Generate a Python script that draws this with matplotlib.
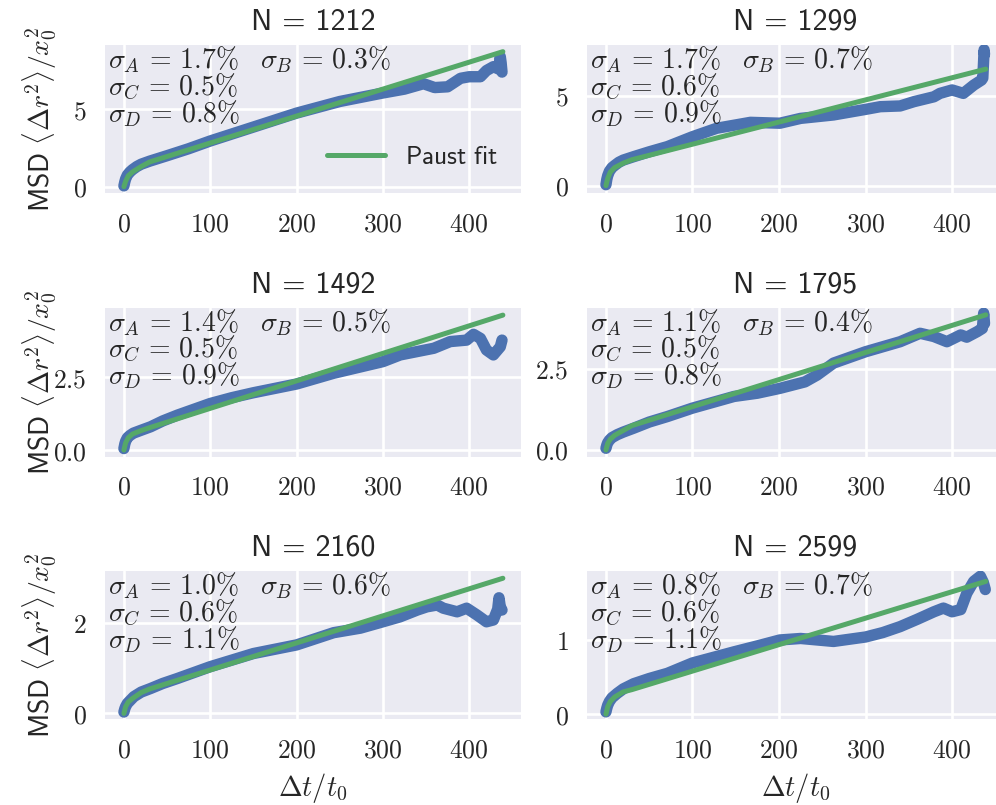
import matplotlib
matplotlib.use("Agg")
import matplotlib.pyplot as plt
import seaborn as sns

sns.set_theme(style="darkgrid")
plt.rcParams["mathtext.fontset"] = "cm"
plt.rcParams["font.family"] = ["DejaVu Sans"]

BLUE = "#4C72B0"
GREEN = "#55A868"
INK = "#262626"

# ---------------------------------------------------------------- data
system_sizes = [1212, 1299, 1492, 1795, 2160, 2599]
sigma_A = ["1.7", "1.7", "1.4", "1.1", "1.0", "0.8"]
sigma_B = ["0.3", "0.7", "0.5", "0.4", "0.6", "0.7"]
sigma_C = ["0.5", "0.6", "0.5", "0.5", "0.6", "0.6"]
sigma_D = ["0.8", "0.9", "0.9", "0.8", "1.1", "1.1"]

# measured MSD curves (lag time in units of t0, MSD in units of x0^2)
t_1212 = [0, 1, 2, 4, 7, 10, 15, 20, 30, 50, 75, 100, 150, 200, 250, 300,
          325, 347, 360, 375, 390, 400, 413, 420, 428, 434, 436, 437, 438]
msd_1212 = [0.05, 0.3, 0.5, 0.75, 0.95, 1.1, 1.3, 1.45, 1.65, 2.0, 2.45, 2.95,
            3.85, 4.75, 5.5, 6.05, 6.3, 6.65, 6.4, 6.45, 7.0, 7.1, 7.1, 7.5,
            7.75, 7.6, 8.4, 8.0, 7.4]

t_1299 = [0, 1, 2, 4, 7, 10, 15, 20, 32, 50, 71, 100, 128, 167, 201, 225,
          263, 300, 317, 340, 356, 379, 386, 400, 413, 425, 434, 435.5,
          436.5, 437, 437.5]
msd_1299 = [0.05, 0.35, 0.55, 0.8, 1.0, 1.12, 1.3, 1.42, 1.61, 1.88, 2.17,
            2.72, 3.19, 3.52, 3.47, 3.74, 3.93, 4.24, 4.39, 4.43, 4.67, 4.94,
            5.13, 5.32, 5.13, 5.59, 5.87, 5.98, 7.0, 7.55, 7.3]

t_1492 = [0, 1, 2, 4, 7, 11, 20, 31, 45, 62, 100, 125, 150, 200, 243, 300,
          320, 359, 378, 397, 405, 413, 420, 428, 436, 438]
msd_1492 = [0.05, 0.2, 0.3, 0.42, 0.5, 0.58, 0.68, 0.8, 1.0, 1.2, 1.6, 1.8,
            1.97, 2.27, 2.64, 3.04, 3.27, 3.5, 3.73, 3.78, 3.98, 3.84, 3.44,
            3.27, 3.55, 3.78]

t_1795 = [0, 1, 2, 4, 7, 13, 20, 32, 50, 71, 100, 148, 175, 201, 230, 244,
          263, 300, 340, 363, 379, 394, 410, 417, 429, 435, 436.5, 437.5]
msd_1795 = [0.05, 0.15, 0.22, 0.3, 0.38, 0.47, 0.55, 0.67, 0.86, 1.03, 1.29,
            1.65, 1.75, 1.9, 2.1, 2.31, 2.68, 3.03, 3.34, 3.6, 3.5, 3.34,
            3.55, 3.48, 3.65, 3.75, 4.22, 3.9]

t_2160 = [0, 1, 2, 4, 7, 11.6, 20, 31, 45, 62, 100, 150, 200, 243, 274, 300,
          320, 340, 351, 363, 370, 386, 397, 409, 420, 428, 433, 434.5, 436,
          438]
msd_2160 = [0.03, 0.1, 0.15, 0.22, 0.28, 0.37, 0.47, 0.55, 0.66, 0.77, 1.03,
            1.32, 1.51, 1.78, 1.88, 2.02, 2.13, 2.28, 2.35, 2.39, 2.32, 2.24,
            2.32, 2.17, 2.02, 2.06, 2.3, 2.55, 2.35, 2.28]

t_2599 = [0, 1, 2, 4, 7, 13, 20, 32, 50, 71, 100, 148, 175, 201, 225, 263,
          300, 320, 340, 360, 379, 390, 400, 410, 417, 425, 432.7, 436, 438.4]
msd_2599 = [0.03, 0.08, 0.12, 0.17, 0.22, 0.28, 0.34, 0.41, 0.48, 0.55, 0.69,
            0.84, 0.92, 1.0, 1.02, 0.98, 1.04, 1.1, 1.18, 1.28, 1.38, 1.43,
            1.38, 1.41, 1.63, 1.79, 1.86, 1.78, 1.68]

# Paust model fits
fit_t = [0, 2, 5, 10, 20, 30, 439]
fit_1212 = [0.0, 0.35, 0.7, 0.95, 1.3, 1.6, 8.72]
fit_1299 = [0.0, 0.4, 0.75, 1.0, 1.25, 1.44, 6.48]
fit_1492 = [0.0, 0.25, 0.42, 0.55, 0.67, 0.77, 4.64]
fit_1795 = [0.0, 0.2, 0.33, 0.45, 0.6, 0.75, 4.17]
fit_2160 = [0.0, 0.15, 0.25, 0.33, 0.46, 0.54, 2.98]
fit_2599 = [0.0, 0.1, 0.17, 0.23, 0.3, 0.33, 1.79]

x_ticks = [0, 100, 200, 300, 400]
x_tick_labels = ["0", "100", "200", "300", "400"]
y_ticks = [[0, 5], [0, 5], [0, 2.5], [0, 2.5], [0, 2], [0, 1]]
y_tick_labels = [["0", "5"], ["0", "5"], ["0.0", "2.5"], ["0.0", "2.5"],
                 ["0", "2"], ["0", "1"]]

curves_t = [t_1212, t_1299, t_1492, t_1795, t_2160, t_2599]
curves_msd = [msd_1212, msd_1299, msd_1492, msd_1795, msd_2160, msd_2599]
fits = [fit_1212, fit_1299, fit_1492, fit_1795, fit_2160, fit_2599]

# ---------------------------------------------------------------- layout
W, H = 996, 805
fig = plt.figure(figsize=(W / 100, H / 100), dpi=100)

col_px = [(105, 416), (587, 417)]                       # left, width
row_px = [(45, 193), (307.7, 456.7), (571, 719.3)]      # top, bottom
y_limits = [(-0.41, 9.15), (-0.41, 7.82), (-0.23, 4.895),
            (-0.21, 4.39), (-0.13, 3.14), (-0.07, 1.93)]
x_limits = (-21.9, 460)


def stat(name, value):
    return rf"$\sigma_{name}\,=\,{value}\%$"


for i in range(6):
    r, c = divmod(i, 2)
    left, width = col_px[c]
    top, bottom = row_px[r]
    ax = fig.add_axes([left / W, 1 - bottom / H, width / W, (bottom - top) / H])
    ax.set_facecolor("#EAEAF2")
    ax.grid(True, color="white", linewidth=1.9)
    ax.set_axisbelow(True)
    for s in ax.spines.values():
        s.set_visible(False)

    ax.plot(curves_t[i], curves_msd[i], color=BLUE, lw=8.2,
            solid_capstyle="round", solid_joinstyle="round", zorder=2)
    ax.plot(fit_t, fits[i], color=GREEN, lw=3.6, zorder=3,
            label=r"$\mathsf{Paust\ fit}$")

    ax.set_xlim(*x_limits)
    ax.set_ylim(*y_limits[i])
    ax.set_xticks(x_ticks, [f"${s}$" for s in x_tick_labels])
    ax.set_yticks(y_ticks[i], [f"${s}$" for s in y_tick_labels[i]])
    ax.tick_params(axis="both", length=0, pad=13, labelsize=18.5,
                   labelcolor=INK)

    ax.set_title(f"N = {system_sizes[i]}", fontsize=21.5, color=INK, pad=11,
                 family=["cmss10", "DejaVu Sans"])

    fs = 20
    for text, dx, dy in [(stat("A", sigma_A[i]), 2.5, -16.8),
                         (stat("B", sigma_B[i]), 111.5, -16.8),
                         (stat("C", sigma_C[i]), 2.5, -36.0),
                         (stat("D", sigma_D[i]), 2.5, -55.4)]:
        ax.annotate(text, xy=(0, 1), xycoords="axes fraction",
                    xytext=(dx, dy), textcoords="offset points",
                    fontsize=fs, color=INK, va="baseline", ha="left")

    if c == 0:
        ax.set_ylabel(r"$\mathsf{MSD}\ \langle\Delta r^2\rangle/x_0^2$",
                      fontsize=20, color=INK)
        ax.yaxis.set_label_coords(-46 / width, 0.5)
    if r == 2:
        ax.set_xlabel(r"$\Delta t/t_0$", fontsize=20.5, color=INK)
        ax.xaxis.set_label_coords(0.5, -52 / (bottom - top))
    if i == 0:
        ax.legend(loc="lower right", frameon=False, fontsize=18.4,
                  handlelength=2.25, handletextpad=0.8)

fig.savefig("out.png", dpi=100)
